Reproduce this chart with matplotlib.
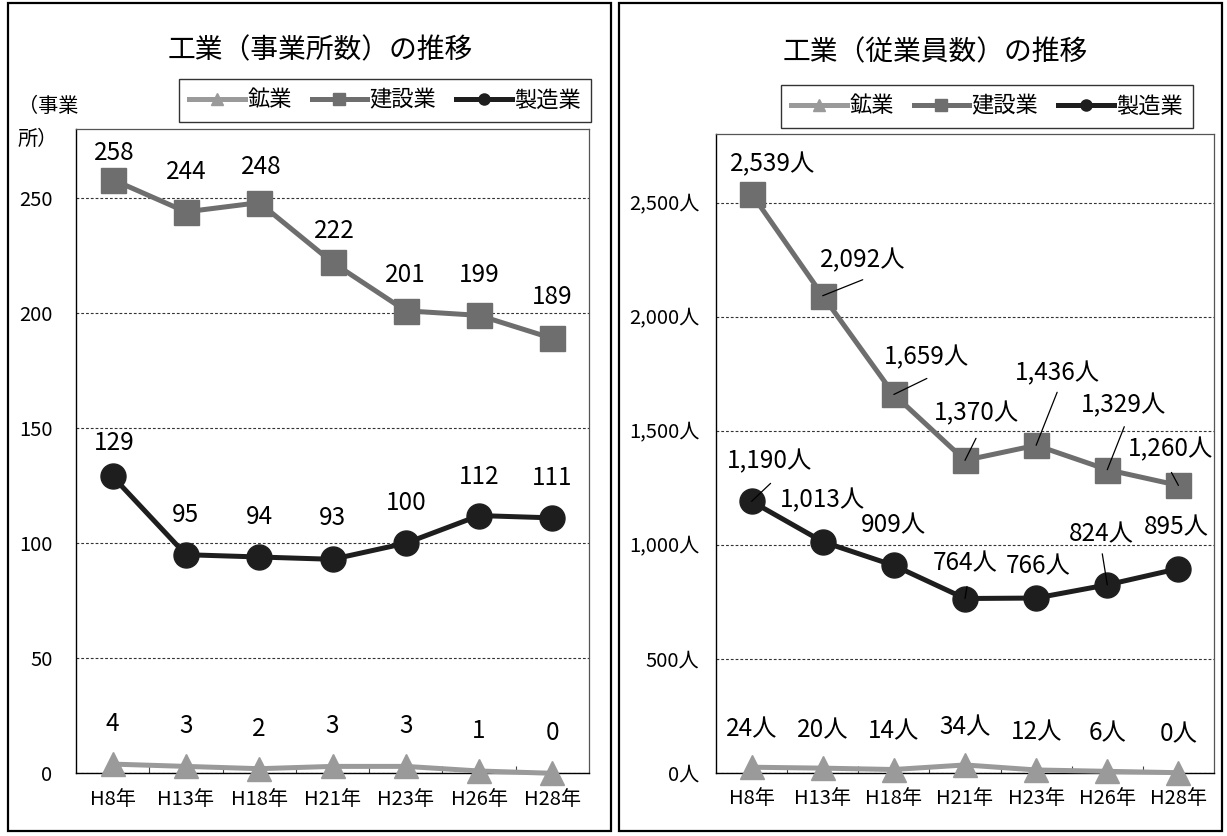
import matplotlib
matplotlib.use("Agg")
import matplotlib.pyplot as plt
from matplotlib.lines import Line2D
from matplotlib.patches import Rectangle
from matplotlib.ticker import FuncFormatter, FixedLocator

plt.rcParams['font.family'] = ['Noto Sans CJK JP', 'DejaVu Sans']

years = ["H8年", "H13年", "H18年", "H21年", "H23年", "H26年", "H28年"]

# 事業所数
est_mining = [4, 3, 2, 3, 3, 1, 0]
est_construction = [258, 244, 248, 222, 201, 199, 189]
est_manufacturing = [129, 95, 94, 93, 100, 112, 111]

# 従業員数
emp_mining = [24, 20, 14, 34, 12, 6, 0]
emp_construction = [2539, 2092, 1659, 1370, 1436, 1329, 1260]
emp_manufacturing = [1190, 1013, 909, 764, 766, 824, 895]

series_names = ["鉱業", "建設業", "製造業"]
colors = ["#9a9a9a", "#6e6e6e", "#1e1e1e"]
markers = ["^", "s", "o"]

W, H = 1227, 836
fig = plt.figure(figsize=(W / 100, H / 100), dpi=100)


def fx(px):
    return px / W


def fy(py):
    return (H - py) / H


# panel borders
for x0, x1 in [(8, 611), (619, 1222)]:
    fig.patches.append(Rectangle((fx(x0), fy(831)), fx(x1) - fx(x0), fy(3) - fy(831),
                                 transform=fig.transFigure, fill=False, ec="black", lw=1.6))

axL = fig.add_axes([fx(76), fy(773.3), fx(589) - fx(76), fy(129) - fy(773.3)])
axR = fig.add_axes([fx(716), fy(772.7), fx(1214) - fx(716), fy(134.3) - fy(772.7)])

xs = list(range(len(years)))


def style_axis(ax, ymax, yticks, fmt, ypad):
    ax.set_xlim(-0.5, len(years) - 0.5)
    ax.set_ylim(0, ymax)
    ax.set_yticks(yticks)
    ax.yaxis.set_major_formatter(FuncFormatter(fmt))
    ax.set_xticks(xs)
    ax.set_xticklabels(years)
    ax.xaxis.set_minor_locator(FixedLocator([i + 0.5 for i in range(len(years) - 1)]))
    ax.tick_params(axis="x", which="major", length=0, pad=11, labelsize=14.5)
    ax.tick_params(axis="x", which="minor", length=5, direction="in", width=0.8, color="#444")
    ax.tick_params(axis="y", length=0, pad=ypad, labelsize=14.5)
    ax.yaxis.grid(True, linestyle=(0, (2.5, 1.8)), color="#333333", lw=0.8)
    ax.set_axisbelow(True)
    for s in ["top", "right"]:
        ax.spines[s].set_color("#555555")
        ax.spines[s].set_linewidth(0.9)
    for s in ["left", "bottom"]:
        ax.spines[s].set_color("black")
        ax.spines[s].set_linewidth(1.0)


style_axis(axL, 280, [0, 50, 100, 150, 200, 250], lambda v, p: f"{int(v)}", 17)
style_axis(axR, 2800, [0, 500, 1000, 1500, 2000, 2500], lambda v, p: f"{int(v):,}人", 12)


def plot_series(ax, data_list):
    for data, c, m in zip(data_list, colors, markers):
        ms = 17 if m == "^" else 18
        ax.plot(xs, data, color=c, lw=3.6, marker=m, markersize=ms,
                markerfacecolor=c, markeredgecolor=c, clip_on=False, zorder=3)


plot_series(axL, [est_mining, est_construction, est_manufacturing])
plot_series(axR, [emp_mining, emp_construction, emp_manufacturing])


def label(ax, x, v, text, dx, dy, leader=None, fs=17.5):
    ax.annotate(text, xy=(x, v), xytext=(dx, dy), textcoords="offset pixels",
                ha="center", va="center", fontsize=fs, color="black", zorder=6)
    if leader is not None:
        ax.annotate("", xy=(x, v), xytext=leader, textcoords="offset pixels",
                    arrowprops=dict(arrowstyle="-", color="black", lw=0.9,
                                    shrinkA=0, shrinkB=0), zorder=6)


# left panel labels
est_con_off = [(2, 27), (0, 40), (2, 36), (2, 31), (0, 36), (0, 40), (0, 41)]
est_man_off = [(2, 33), (0, 40), (0, 40), (0, 41), (0, 40), (0, 39), (0, 40)]
for i in xs:
    label(axL, i, est_mining[i], f"{est_mining[i]}", 0, 40)
    label(axL, i, est_construction[i], f"{est_construction[i]}", *est_con_off[i])
    label(axL, i, est_manufacturing[i], f"{est_manufacturing[i]}", *est_man_off[i])

# right panel labels
emp_con_off = [(21, 30, None), (40, 35, (40, 16)), (33, 37, (33, 16)), (11, 47, (11, 22)),
               (21, 72, (21, 53)), (16, 64, (17, 43)), (-8, 36, (-7, 13))]
emp_man_off = [(18, 40, (19, 18)), (0, 41, None), (0, 40, None), (0, 35, (2, 12)),
               (2, 32, None), (-6, 51, (-5, 31)), (-2, 41, None)]
for i in xs:
    label(axR, i, emp_mining[i], f"{emp_mining[i]:,}人", 0, 38)
    dx, dy, ld = emp_con_off[i]
    label(axR, i, emp_construction[i], f"{emp_construction[i]:,}人", dx, dy, ld)
    dx, dy, ld = emp_man_off[i]
    label(axR, i, emp_manufacturing[i], f"{emp_manufacturing[i]:,}人", dx, dy, ld)

# titles
fig.text(fx(320), fy(50), "工業（事業所数）の推移", ha="center", va="center", fontsize=20)
fig.text(fx(935), fy(52), "工業（従業員数）の推移", ha="center", va="center", fontsize=20)

# y unit label on left panel
fig.text(fx(18), fy(123), "（事業\n所）", ha="left", va="center", fontsize=14.5, linespacing=1.75)

# legends
handles = [Line2D([0], [0], color=c, lw=3.6, marker=m, markersize=8,
                  markerfacecolor=c, markeredgecolor=c)
           for c, m in zip(colors, markers)]
for cx, cy in [(385, 100), (987, 106)]:
    leg = fig.legend(handles, series_names, loc="center", bbox_to_anchor=(fx(cx), fy(cy)),
                     ncol=3, fontsize=16, frameon=True, fancybox=False, edgecolor="black",
                     handlelength=2.5, handletextpad=0.1, columnspacing=0.9,
                     borderpad=0.45, borderaxespad=0)
    leg.get_frame().set_linewidth(1.0)

fig.savefig("out.png", dpi=100)
